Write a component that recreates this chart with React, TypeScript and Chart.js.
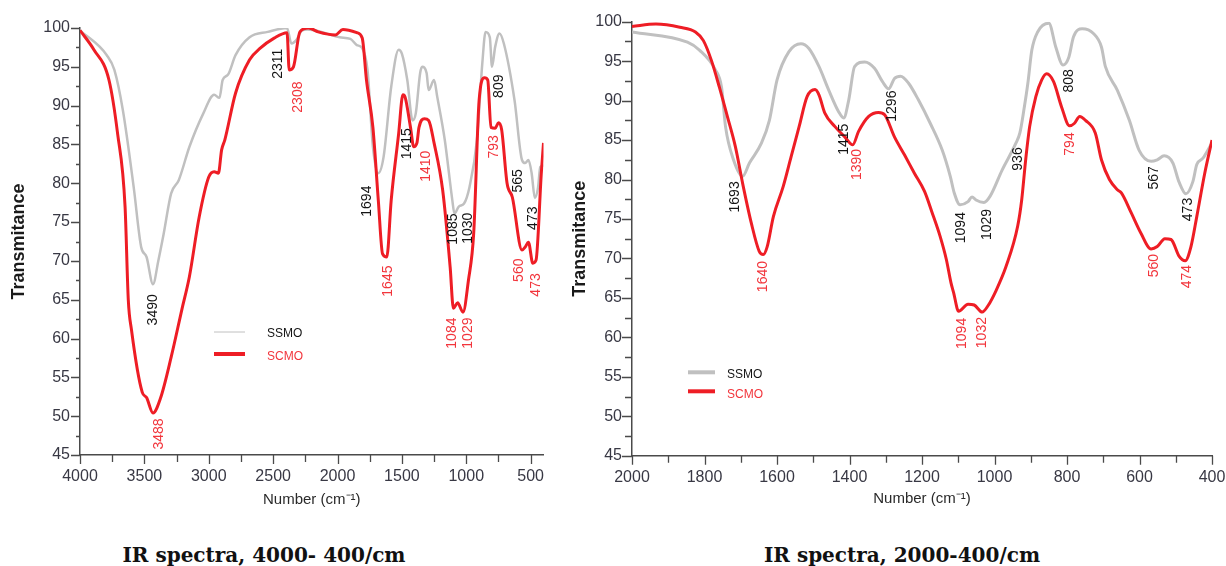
import React, { useEffect, useRef } from 'react';
import { Chart, registerables } from 'chart.js';

Chart.register(...registerables);

// ---------- DATA ----------
// Panel 1: 4000-400 cm-1
const fullSsmoX = [4000, 3792, 3733, 3667, 3583, 3525, 3483, 3433, 3392, 3350, 3292, 3233, 3150, 3042, 2958, 2917, 2892, 2850, 2792, 2683, 2542, 2392, 2358, 2317, 2275, 2233, 2125, 1983, 1900, 1850, 1808, 1767, 1725, 1683, 1642, 1583, 1525, 1500, 1458, 1417, 1392, 1358, 1342, 1308, 1292, 1250, 1225, 1167, 1108, 1092, 1058, 1017, 975, 917, 875, 850, 817, 800, 775, 742, 708, 625, 567, 542, 517, 492, 467, 442, 425, 400];
const fullSsmoY = [99.7, 96.5, 94.6, 89.4, 79.5, 71.8, 70.5, 67.0, 70.0, 73.5, 78.7, 80.4, 84.7, 89.0, 91.4, 91.0, 93.3, 94.0, 96.5, 98.8, 99.5, 100.0, 98.0, 98.5, 99.7, 99.8, 99.5, 98.8, 98.6, 97.8, 97.4, 94.6, 84.7, 81.3, 83.4, 92.4, 97.2, 96.7, 93.3, 88.1, 89.0, 94.2, 95.0, 94.2, 92.0, 93.3, 91.1, 85.6, 77.8, 76.1, 77.0, 77.4, 79.5, 85.6, 95.5, 99.5, 98.8, 95.0, 97.6, 99.3, 98.0, 90.7, 83.0, 82.6, 83.0, 81.3, 78.1, 79.5, 82.1, 82.3];
const fullScmoX = [4000, 3892, 3775, 3708, 3650, 3625, 3600, 3517, 3483, 3433, 3375, 3292, 3208, 3150, 3075, 3000, 2958, 2925, 2900, 2875, 2792, 2683, 2600, 2492, 2392, 2375, 2342, 2292, 2225, 2150, 2017, 1958, 1850, 1808, 1775, 1725, 1683, 1650, 1617, 1583, 1525, 1492, 1475, 1433, 1408, 1383, 1367, 1325, 1292, 1250, 1183, 1125, 1100, 1067, 1025, 983, 942, 900, 858, 833, 808, 775, 750, 725, 683, 642, 567, 542, 517, 483, 458, 417, 400];
const fullScmoY = [99.7, 97.2, 93.3, 86.4, 77.0, 65.0, 61.1, 53.1, 52.4, 50.4, 52.3, 57.6, 63.8, 68.0, 75.6, 80.8, 81.5, 81.3, 84.3, 85.6, 91.6, 95.9, 97.4, 98.7, 99.4, 94.6, 95.0, 99.5, 100.0, 99.5, 99.1, 99.8, 99.4, 98.7, 93.3, 87.2, 77.8, 70.9, 70.5, 77.8, 86.4, 91.4, 91.1, 87.2, 84.7, 85.2, 87.2, 88.3, 88.1, 85.2, 79.1, 69.2, 63.9, 64.6, 63.4, 67.5, 73.6, 90.7, 93.6, 93.3, 87.2, 87.1, 87.8, 86.9, 80.0, 78.2, 71.4, 71.8, 72.4, 69.7, 70.1, 81.3, 85.2];

// Panel 2: 2000-400 cm-1
const midSsmoX = [2000, 1847, 1814, 1770, 1753, 1742, 1720, 1695, 1676, 1643, 1621, 1600, 1567, 1534, 1512, 1484, 1457, 1430, 1416, 1402, 1386, 1358, 1331, 1309, 1292, 1276, 1259, 1237, 1210, 1177, 1144, 1122, 1111, 1095, 1073, 1062, 1051, 1029, 1012, 979, 941, 930, 919, 908, 897, 881, 850, 831, 811, 795, 782, 758, 727, 705, 694, 661, 628, 601, 568, 551, 532, 508, 491, 472, 453, 442, 425, 403];
const midSsmoY = [98.7, 97.4, 96.4, 93.9, 91.7, 86.7, 82.5, 80.4, 82.1, 84.6, 87.5, 92.6, 96.2, 97.2, 96.6, 94.3, 91.3, 88.6, 87.8, 90.1, 94.3, 94.9, 94.1, 92.4, 91.5, 92.8, 93.1, 92.2, 90.1, 87.1, 83.7, 80.4, 78.3, 76.8, 77.2, 77.8, 77.4, 77.1, 77.9, 81.2, 84.6, 85.9, 88.8, 92.2, 96.4, 98.7, 99.8, 96.8, 94.5, 95.5, 98.1, 99.1, 98.5, 96.8, 94.3, 91.3, 87.5, 83.7, 82.3, 82.5, 83.0, 82.1, 79.7, 78.2, 79.7, 81.9, 82.7, 84.4];
const midScmoX = [2000, 1934, 1868, 1825, 1803, 1781, 1759, 1737, 1715, 1693, 1671, 1649, 1638, 1627, 1610, 1583, 1561, 1539, 1517, 1495, 1484, 1468, 1440, 1413, 1391, 1375, 1347, 1320, 1303, 1276, 1248, 1221, 1193, 1172, 1150, 1133, 1120, 1113, 1099, 1073, 1056, 1034, 1018, 996, 968, 936, 925, 914, 903, 886, 870, 856, 837, 815, 793, 780, 765, 749, 722, 705, 683, 661, 650, 623, 596, 568, 551, 530, 513, 491, 474, 458, 442, 420, 400];
const midScmoY = [99.4, 99.7, 99.3, 98.7, 97.6, 95.1, 91.7, 88.0, 84.2, 79.1, 74.5, 70.9, 70.5, 71.5, 75.3, 79.1, 82.9, 86.7, 90.5, 91.4, 90.7, 88.4, 86.7, 85.4, 84.4, 86.1, 88.0, 88.5, 88.2, 85.4, 83.1, 80.8, 78.5, 75.8, 72.8, 69.9, 66.9, 65.7, 63.3, 64.2, 64.1, 63.2, 64.0, 65.9, 69.0, 74.1, 77.4, 82.5, 86.7, 90.5, 92.6, 93.4, 92.4, 89.2, 86.8, 87.1, 88.0, 87.5, 85.9, 82.5, 80.0, 78.7, 78.3, 75.8, 73.2, 71.2, 71.5, 72.5, 72.4, 70.3, 69.7, 71.5, 75.3, 80.8, 85.0];

// Tick values
const fullXTicks = [4000, 3750, 3500, 3250, 3000, 2750, 2500, 2250, 2000, 1750, 1500, 1250, 1000, 750, 500];
const midXTicks = [2000, 1900, 1800, 1700, 1600, 1500, 1400, 1300, 1200, 1100, 1000, 900, 800, 700, 600, 500, 400];
const yTicks = [45, 47.5, 50, 52.5, 55, 57.5, 60, 62.5, 65, 67.5, 70, 72.5, 75, 77.5, 80, 82.5, 85, 87.5, 90, 92.5, 95, 97.5, 100];

// Peak annotations: label, wavenumber, transmittance (label centre), series
const fullPeakLabels = ['3490', '3488', '2311', '2308', '1694', '1645', '1415', '1410', '1085', '1030', '1084', '1029', '809', '793', '565', '473', '560', '473'];
const fullPeakX = [3433, 3383, 2458, 2308, 1767, 1608, 1458, 1308, 1100, 983, 1108, 983, 742, 783, 600, 483, 592, 458];
const fullPeakY = [63.7, 47.7, 95.4, 91.1, 77.7, 67.4, 85.1, 82.2, 74.1, 74.2, 60.7, 60.7, 92.5, 84.7, 80.3, 75.5, 68.8, 66.9];
const fullPeakSeries = ['S', 'C', 'S', 'C', 'S', 'C', 'S', 'C', 'S', 'S', 'C', 'C', 'S', 'C', 'S', 'S', 'C', 'C'];

const midPeakLabels = ['1693', '1640', '1415', '1390', '1296', '1094', '1029', '1094', '1032', '936', '808', '794', '567', '473', '560', '474'];
const midPeakX = [1715, 1638, 1416, 1380, 1281, 1091, 1021, 1089, 1034, 936, 793, 791, 560, 466, 560, 469];
const midPeakY = [77.8, 67.7, 85.1, 81.9, 89.3, 73.9, 74.3, 60.5, 60.6, 82.6, 92.5, 84.5, 80.2, 76.2, 69.1, 67.7];
const midPeakSeries = ['S', 'C', 'S', 'C', 'S', 'S', 'S', 'C', 'C', 'S', 'S', 'C', 'S', 'S', 'C', 'C'];

const seriesNames = ['SSMO', 'SCMO'];

// ---------- STYLE ----------
const GRAY = '#c0c0c0';
const RED = '#ee1d25';
const RED_TEXT = '#f2353c';
const BLACK_TEXT = '#141414';
const AXIS = '#4a4a4a';
const TICK_TEXT = '#383844';
const SANS = '"Liberation Sans", Arial, sans-serif';

type PanelProps = {
  left: number;
  width: number;
  height: number;
  padding: { left: number; right: number; top: number; bottom: number };
  yWidth: number;
  xHeight: number;
  xMin: number;
  xMax: number;
  xTicks: number[];
  xMajorStep: number;
  yMajorLen: number;
  yMinorLen: number;
  yLabelPad: number;
  yTitlePad: number;
  xTitleBottomPad: number;
  ssmoX: number[];
  ssmoY: number[];
  scmoX: number[];
  scmoY: number[];
  ssmoWidth: number;
  scmoWidth: number;
  peakLabels: string[];
  peakX: number[];
  peakY: number[];
  peakSeries: string[];
  legend: { dx: number; dy: number; len: number; textDx: number; gap: number; ssmoLineWidth: number };
};

function Panel(p: PanelProps) {
  const ref = useRef<HTMLCanvasElement | null>(null);
  useEffect(() => {
    const canvas = ref.current;
    if (!canvas) return;
    const toPts = (xs: number[], ys: number[]) => xs.map((x, i) => ({ x, y: ys[i] }));

    const decor = {
      id: 'decor',
      afterDraw(chart: any) {
        const ctx = chart.ctx as CanvasRenderingContext2D;
        const xs = chart.scales.x;
        const ys = chart.scales.y;
        const area = chart.chartArea;
        ctx.save();
        // tick marks
        ctx.strokeStyle = AXIS;
        ctx.lineWidth = 1.3;
        ctx.beginPath();
        for (const t of xs.ticks) {
          const px = Math.round(xs.getPixelForValue(t.value)) + 0.5;
          const len = t.value % p.xMajorStep === 0 ? 9 : 7;
          ctx.moveTo(px, area.bottom);
          ctx.lineTo(px, area.bottom + len);
        }
        for (const t of ys.ticks) {
          const py = Math.round(ys.getPixelForValue(t.value)) + 0.5;
          const len = t.value % 5 === 0 ? p.yMajorLen : p.yMinorLen;
          ctx.moveTo(area.left, py);
          ctx.lineTo(area.left - len, py);
        }
        ctx.stroke();

        // peak labels
        ctx.font = '14px ' + SANS;
        ctx.textAlign = 'center';
        ctx.textBaseline = 'middle';
        p.peakLabels.forEach((lab, i) => {
          const px = xs.getPixelForValue(p.peakX[i]);
          const py = ys.getPixelForValue(p.peakY[i]);
          ctx.save();
          ctx.translate(px, py);
          ctx.rotate(-Math.PI / 2);
          ctx.fillStyle = p.peakSeries[i] === 'C' ? RED_TEXT : BLACK_TEXT;
          ctx.fillText(lab, 0, 0);
          ctx.restore();
        });

        // legend
        const lg = p.legend;
        const lx = area.left + lg.dx;
        const ly = area.top + lg.dy;
        ctx.lineCap = 'butt';
        ctx.strokeStyle = GRAY;
        ctx.lineWidth = lg.ssmoLineWidth;
        ctx.beginPath();
        ctx.moveTo(lx, ly);
        ctx.lineTo(lx + lg.len, ly);
        ctx.stroke();
        ctx.strokeStyle = RED;
        ctx.lineWidth = 4;
        ctx.beginPath();
        ctx.moveTo(lx, ly + lg.gap);
        ctx.lineTo(lx + lg.len, ly + lg.gap);
        ctx.stroke();
        ctx.font = '12px ' + SANS;
        ctx.textAlign = 'left';
        ctx.textBaseline = 'middle';
        ctx.fillStyle = BLACK_TEXT;
        ctx.fillText(seriesNames[0], lx + lg.textDx, ly + 2);
        ctx.fillStyle = RED_TEXT;
        ctx.fillText(seriesNames[1], lx + lg.textDx, ly + lg.gap + 3);
        ctx.restore();
      },
    };

    const chart = new Chart(canvas, {
      type: 'line',
      data: {
        datasets: [
          {
            label: seriesNames[1],
            data: toPts(p.scmoX, p.scmoY),
            borderColor: RED,
            borderWidth: p.scmoWidth,
            pointRadius: 0,
            cubicInterpolationMode: 'monotone',
            fill: false,
          },
          {
            label: seriesNames[0],
            data: toPts(p.ssmoX, p.ssmoY),
            borderColor: GRAY,
            borderWidth: p.ssmoWidth,
            pointRadius: 0,
            cubicInterpolationMode: 'monotone',
            fill: false,
          },
        ],
      },
      options: {
        animation: false,
        responsive: false,
        maintainAspectRatio: false,
        layout: { padding: p.padding },
        plugins: { legend: { display: false }, tooltip: { enabled: false } },
        scales: {
          x: {
            type: 'linear',
            min: p.xMin,
            max: p.xMax,
            reverse: true,
            afterBuildTicks: (s: any) => {
              s.ticks = p.xTicks.map((v) => ({ value: v }));
            },
            afterFit: (s: any) => {
              s.height = p.xHeight;
            },
            ticks: {
              autoSkip: false,
              maxRotation: 0,
              minRotation: 0,
              padding: 3,
              color: TICK_TEXT,
              font: { family: SANS, size: 16 },
              callback: (v: any) => (Number(v) % p.xMajorStep === 0 ? String(v) : ''),
            },
            grid: {
              display: true,
              drawOnChartArea: false,
              drawTicks: true,
              tickLength: 9,
              tickColor: 'rgba(0,0,0,0)',
              color: 'rgba(0,0,0,0)',
            },
            border: { display: true, color: AXIS, width: 1.5 },
            title: {
              display: true,
              text: 'Number (cm\u207B\u00B9)',
              color: '#2a2a2a',
              font: { family: SANS, size: 15 },
              padding: { top: 0, bottom: p.xTitleBottomPad },
            },
          },
          y: {
            type: 'linear',
            min: 45,
            max: 100,
            afterBuildTicks: (s: any) => {
              s.ticks = yTicks.map((v) => ({ value: v }));
            },
            afterFit: (s: any) => {
              s.width = p.yWidth;
            },
            ticks: {
              autoSkip: false,
              padding: p.yLabelPad,
              color: TICK_TEXT,
              font: { family: SANS, size: 16 },
              callback: (v: any) => (Number(v) % 5 === 0 ? String(v) : ''),
            },
            grid: {
              display: true,
              drawOnChartArea: false,
              drawTicks: true,
              tickLength: p.yMajorLen,
              tickColor: 'rgba(0,0,0,0)',
              color: 'rgba(0,0,0,0)',
            },
            border: { display: true, color: AXIS, width: 1.5 },
            title: {
              display: true,
              text: 'Transmitance',
              color: '#1a1a1a',
              font: { family: SANS, size: 18, weight: 'bold' },
              padding: { top: p.yTitlePad, bottom: 0 },
            },
          },
        },
      },
      plugins: [decor],
    } as any);
    return () => chart.destroy();
  }, []);

  return (
    <canvas
      ref={ref}
      width={p.width}
      height={p.height}
      style={{ position: 'absolute', left: p.left, top: 0, width: p.width, height: p.height, display: 'block' }}
    />
  );
}

const captionStyle: React.CSSProperties = {
  position: 'absolute',
  top: 543,
  width: 420,
  textAlign: 'center',
  font: 'bold 20px "DejaVu Serif", serif',
  lineHeight: '24px',
  color: '#111',
  whiteSpace: 'nowrap',
};

export default function App() {
  return (
    <div
      style={{
        position: 'absolute',
        left: 0,
        top: 0,
        width: 1226,
        height: 566,
        overflow: 'hidden',
        background: '#fff',
      }}
    >
      <Panel
        left={0}
        width={600}
        height={520}
        padding={{ left: 0, right: 56.5, top: 28, bottom: 11 }}
        yWidth={80}
        xHeight={54}
        xMin={400}
        xMax={4000}
        xTicks={fullXTicks}
        xMajorStep={500}
        yMajorLen={9}
        yMinorLen={4}
        yLabelPad={1}
        yTitlePad={8}
        xTitleBottomPad={0}
        ssmoX={fullSsmoX}
        ssmoY={fullSsmoY}
        scmoX={fullScmoX}
        scmoY={fullScmoY}
        ssmoWidth={2.5}
        scmoWidth={3}
        peakLabels={fullPeakLabels}
        peakX={fullPeakX}
        peakY={fullPeakY}
        peakSeries={fullPeakSeries}
        legend={{ dx: 134, dy: 304, len: 31, textDx: 53, gap: 22, ssmoLineWidth: 1 }}
      />
      <Panel
        left={560}
        width={680}
        height={520}
        padding={{ left: 0, right: 28, top: 21.7, bottom: 10.3 }}
        yWidth={72}
        xHeight={54}
        xMin={400}
        xMax={2000}
        xTicks={midXTicks}
        xMajorStep={200}
        yMajorLen={10}
        yMinorLen={7}
        yLabelPad={0}
        yTitlePad={9}
        xTitleBottomPad={2}
        ssmoX={midSsmoX}
        ssmoY={midSsmoY}
        scmoX={midScmoX}
        scmoY={midScmoY}
        ssmoWidth={3}
        scmoWidth={3}
        peakLabels={midPeakLabels}
        peakX={midPeakX}
        peakY={midPeakY}
        peakSeries={midPeakSeries}
        legend={{ dx: 56, dy: 350.6, len: 27, textDx: 39, gap: 19, ssmoLineWidth: 4 }}
      />
      <div style={{ ...captionStyle, left: 264 - 210 }}>IR spectra, 4000- 400/cm</div>
      <div style={{ ...captionStyle, left: 902 - 210 }}>IR spectra, 2000-400/cm</div>
    </div>
  );
}
